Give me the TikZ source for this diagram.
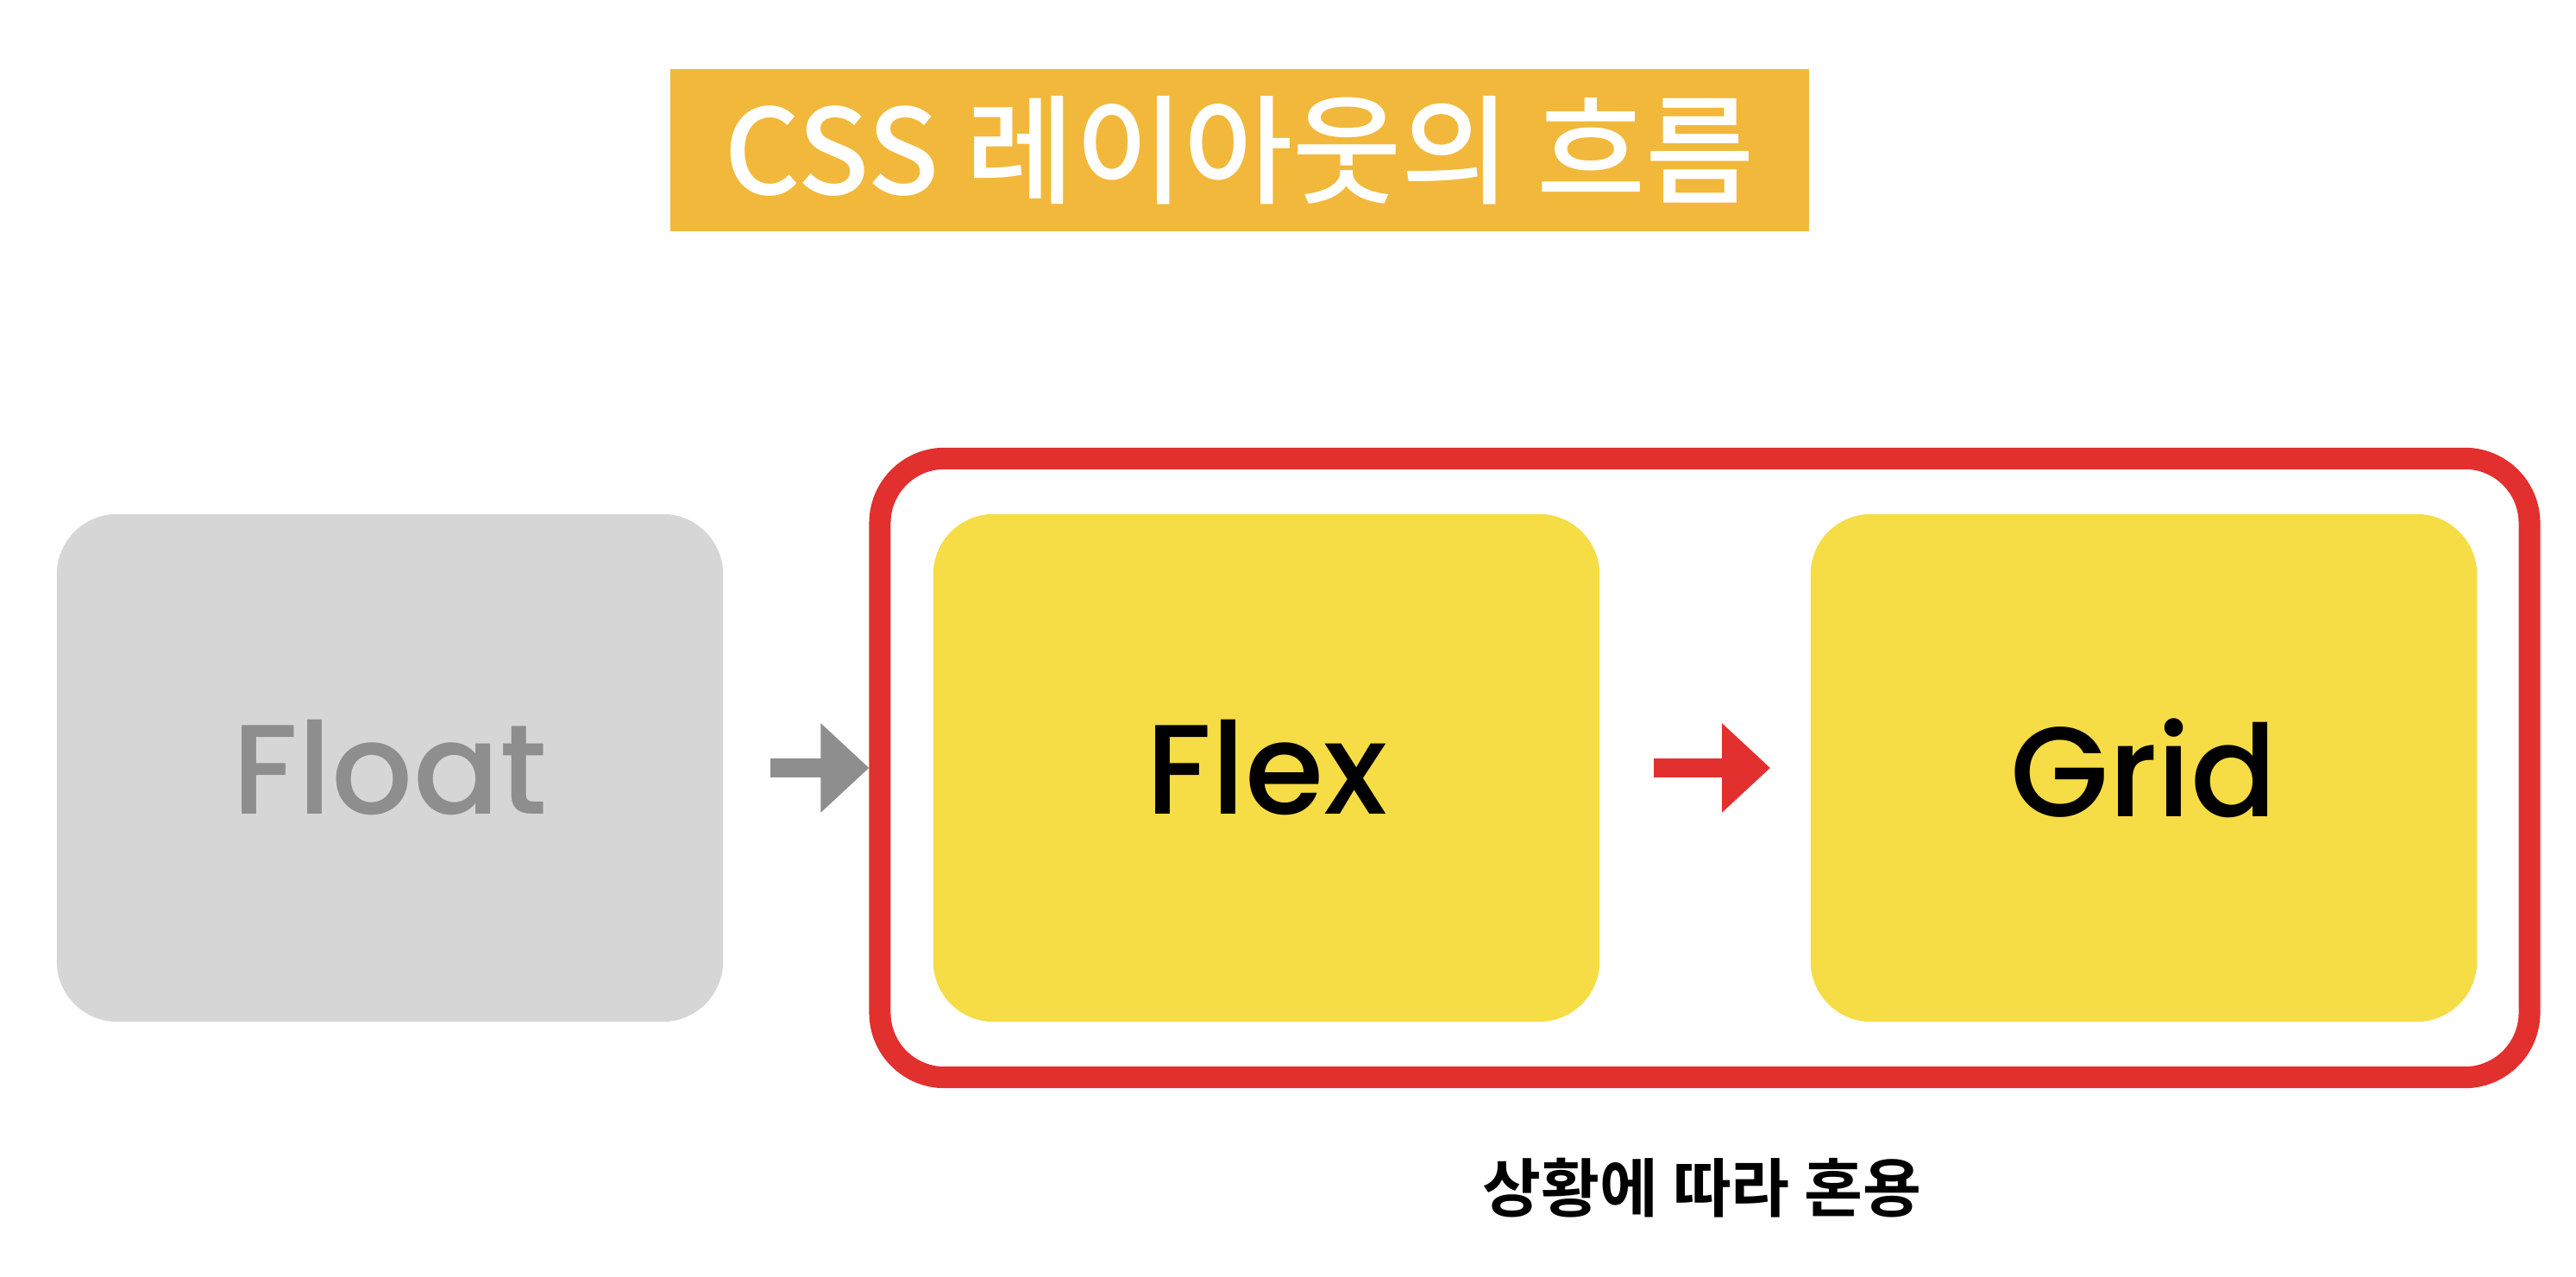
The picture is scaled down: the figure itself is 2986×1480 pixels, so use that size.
\documentclass[tikz,border=0pt]{standalone}
\usepackage{fontspec}
\setmainfont{Noto Sans CJK KR}[Script=Hangul, BoldFont={Noto Sans CJK KR Bold}]
\newfontfamily\titlefont{Noto Sans CJK KR Medium}[Script=Hangul]
\newfontfamily\boxfont{Poppins Medium}
\usetikzlibrary{arrows.meta,positioning}

\definecolor{titlebg}{HTML}{F2B83B}
\definecolor{boxyellow}{HTML}{F6DC45}
\definecolor{boxgray}{HTML}{D6D6D6}
\definecolor{textgray}{HTML}{8E8E8E}
\definecolor{groupred}{HTML}{E2302E}

\tikzset{
  layoutbox/.style={rounded corners=0.7cm, minimum width=7.72cm, minimum height=5.88cm,
    inner sep=0pt, font=\boxfont\fontsize{42}{50}\selectfont},
  flowarrow/.style={line width=0.22cm, -{Triangle[length=0.56cm,width=1.0cm]}},
}

\begin{document}
\begin{tikzpicture}[x=0.01cm,y=-0.01cm]
    \useasboundingbox (0,0) rectangle (2986,1480);
    % Title %
    \node[fill=titlebg, text=white, minimum width=13.2cm, minimum height=1.88cm, inner sep=0pt,
      font=\titlefont\fontsize{39}{46}\selectfont] (title) at (1437,174) {CSS 레이아웃의 흐름};

    % Boxes %
    \node[layoutbox, fill=boxgray, text=textgray] (float) at (452,890) {Float};
    \node[layoutbox, fill=boxyellow] (flex) at (1468,890) {Flex};
    \node[layoutbox, fill=boxyellow] (grid) at (2485,890) {Grid};
    \node[draw=groupred, line width=0.25cm, rounded corners=0.75cm, minimum width=19.11cm,
      minimum height=7.17cm] (group) at (1976,890) {};

    % Arrows %
    \draw[flowarrow, textgray, shorten <=0.54cm] (float.east) -- (group.west);
    \draw[flowarrow, groupred, shorten <=0.62cm, shorten >=0.46cm] (flex.east) -- (grid.west);

    \node[font=\bfseries\fontsize{21}{25}\selectfont] (note) at (1973,1377) {상황에 따라 혼용};
\end{tikzpicture}
\end{document}
